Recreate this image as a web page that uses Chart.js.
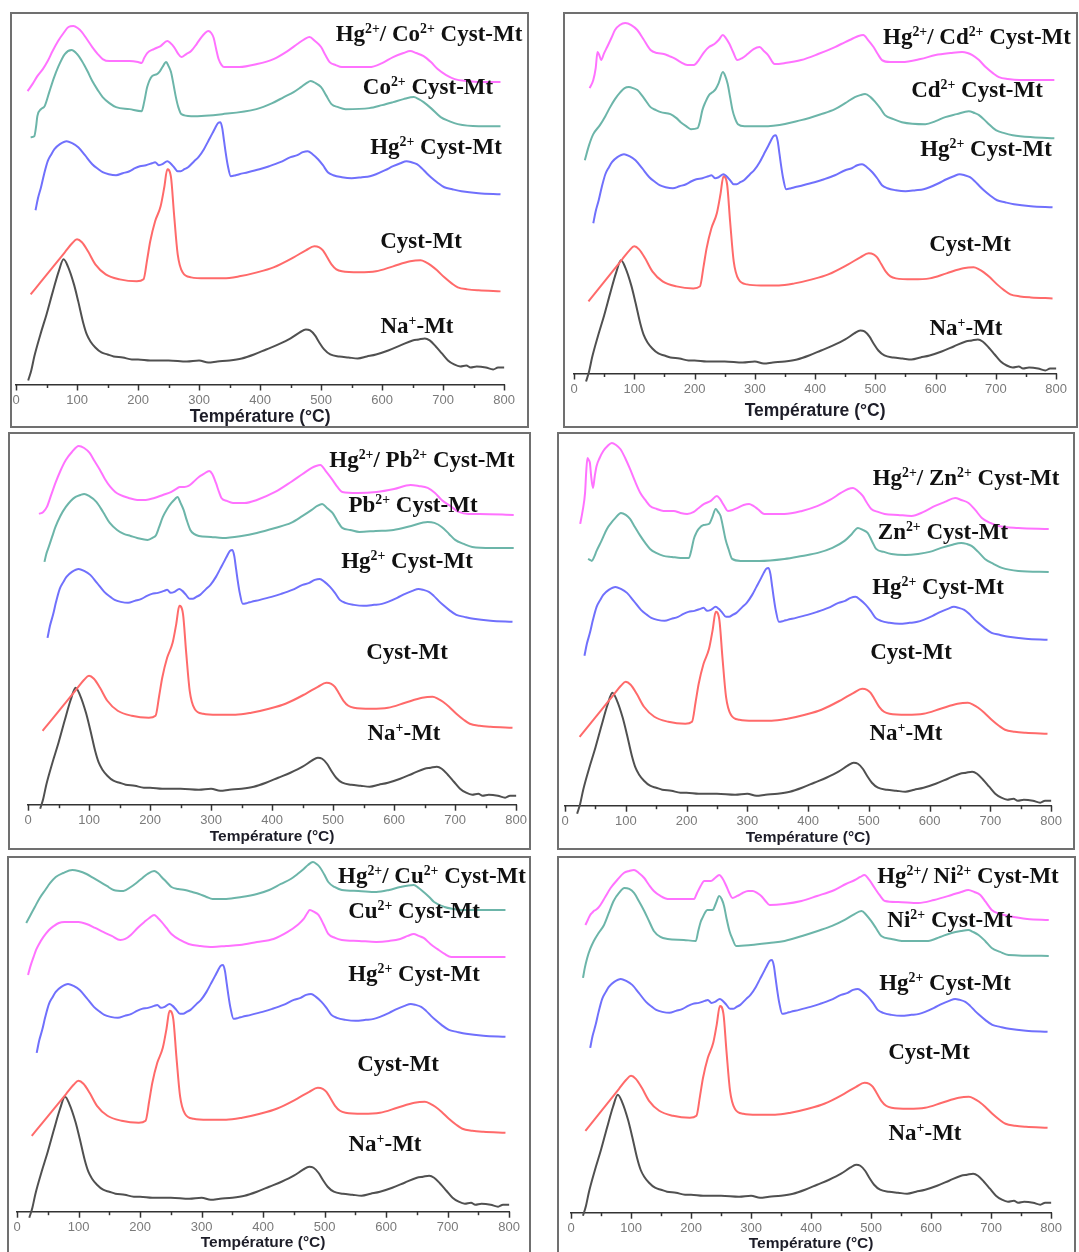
<!DOCTYPE html>
<html>
<head>
<meta charset="utf-8">
<script src="https://cdn.jsdelivr.net/npm/chart.js@4.4.1/dist/chart.umd.min.js"></script>
<style>
  body { margin: 0; background: #fff; }
  #page { position: relative; width: 1079px; height: 1252px; overflow: hidden; background: #fff; }
  .box { position: absolute; border: 2px solid #707070; box-sizing: border-box; }
  canvas { position: absolute; }
  .lbl { position: absolute; transform: translate(-50%, -50%); white-space: nowrap; line-height: 1;
         font-family: "Liberation Serif", "Times New Roman", serif; font-weight: bold; font-size: 23px; color: #111; }
  .lbl sup { font-size: 0.6em; vertical-align: baseline; position: relative; top: -0.6em; line-height: 0; }
</style>
</head>
<body>
<div id="page"></div>
<script>
// DTG curves, [temperature °C, signal] (signal in arbitrary stacked units)
const naMt = [[20,4],[25,14],[30,28],[40,50],[50,70],[60,92],[70,113],[78,125],[85,118],[95,100],[102,83],[110,62],[116,50],[122,43],[130,37],[140,32],[150,30],[160,28],[175,27],[190,25],[200,25],[220,24],[250,24],[280,23],[300,24],[315,22],[330,23],[350,24],[370,26],[390,30],[410,35],[430,40],[450,46],[465,52],[475,55],[482,54],[490,49],[497,42],[505,35],[515,30],[530,28],[545,27],[560,26],[575,28],[590,30],[610,34],[630,39],[650,44],[660,45],[670,46],[678,44],[688,38],[698,31],[708,24],[718,20],[728,18],[738,19],[745,17],[755,18],[770,17],[782,15],[790,17],[800,17]];
const cystMt = [[24,90],[40,102],[60,117],[80,132],[92,141],[100,145],[108,142],[118,133],[130,120],[147,110],[170,105],[198,103],[209,105],[215,125],[220,143],[228,163],[237,178],[243,197],[248,215],[254,207],[259,170],[265,130],[273,112],[287,107],[310,106],[340,106],[366,108],[395,112],[422,117],[455,127],[475,134],[489,138],[497,137],[503,134],[510,127],[517,120],[525,115],[534,113],[562,112],[590,113],[618,118],[646,123],[663,124],[672,122],[680,119],[690,114],[702,107],[714,101],[724,97],[740,95],[758,94],[794,93]];
const hgCystMt = [[32,174],[36,186],[41,197],[46,210],[52,223],[58,230],[63,235],[72,240],[83,243],[92,241],[102,237],[113,229],[125,220],[135,215],[142,212],[152,210],[164,209],[175,211],[186,213],[195,216],[203,218],[213,219],[223,221],[228,222],[234,219],[240,220],[248,223],[253,221],[259,217],[265,213],[270,213],[276,215],[282,217],[292,223],[299,227],[308,235],[315,243],[322,251],[327,257],[331,261],[335,262],[338,256],[341,243],[344,230],[347,219],[352,208],[360,209],[366,210],[380,212],[399,215],[415,218],[433,222],[450,227],[461,229],[470,232],[478,233],[486,230],[495,225],[503,219],[511,212],[520,209],[534,207],[550,206],[567,207],[580,208],[590,210],[605,214],[618,218],[630,221],[640,223],[648,222],[657,220],[665,216],[673,211],[680,207],[690,202],[702,197],[715,195],[730,193],[758,191],[794,190]];

const coCystMt = [[24,247],[30,248],[33,258],[35,268],[41,275],[47,278],[55,293],[62,306],[69,317],[80,330],[91,334],[100,330],[108,323],[117,313],[125,303],[134,294],[142,287],[153,281],[164,277],[186,275],[206,273],[210,282],[215,297],[223,308],[231,310],[236,313],[240,317],[246,322],[250,318],[254,312],[258,300],[262,287],[266,277],[271,270],[287,268],[338,270],[394,275],[420,281],[439,287],[455,292],[467,297],[476,301],[483,303],[491,301],[500,297],[508,289],[517,280],[528,277],[540,275],[579,276],[600,279],[618,282],[635,285],[652,287],[660,285],[668,282],[680,276],[696,267],[710,263],[724,260],[758,258],[794,258]];
const hgCoCystMt = [[19,293],[27,300],[35,308],[44,315],[52,323],[60,333],[69,343],[78,351],[86,357],[94,358],[101,356],[108,352],[116,345],[125,337],[134,330],[142,325],[153,323],[186,323],[200,322],[206,321],[210,326],[215,331],[226,335],[237,338],[248,343],[253,341],[259,337],[265,331],[271,327],[279,330],[287,333],[296,340],[304,347],[310,351],[315,353],[320,351],[324,346],[328,335],[332,325],[337,319],[341,317],[366,317],[395,320],[422,325],[445,333],[461,340],[473,345],[481,347],[490,343],[500,337],[507,329],[514,322],[524,319],[534,317],[579,317],[600,321],[618,327],[635,331],[646,333],[656,331],[668,328],[680,322],[691,315],[705,309],[719,305],[740,303],[758,302],[794,302]];
const cdCystMt = [[18,213],[25,228],[32,239],[43,248],[52,257],[60,266],[68,274],[77,281],[84,285],[91,286],[98,285],[105,283],[116,275],[127,266],[136,263],[144,261],[160,259],[170,255],[177,251],[186,247],[194,244],[205,245],[209,252],[213,263],[218,271],[224,278],[230,281],[235,284],[240,290],[247,301],[251,297],[255,289],[259,276],[263,263],[267,255],[272,249],[283,247],[322,247],[377,253],[410,259],[433,264],[450,270],[466,276],[475,278],[483,279],[492,276],[500,271],[508,265],[516,258],[530,254],[544,251],[583,249],[600,252],[616,256],[635,259],[655,262],[665,260],[672,258],[685,251],[700,243],[714,240],[728,238],[761,236],[797,235]];
const hgCdCystMt = [[26,285],[32,293],[36,305],[39,321],[42,318],[45,313],[50,320],[55,326],[62,335],[68,343],[76,348],[85,350],[95,348],[105,343],[115,334],[127,323],[138,320],[149,319],[158,317],[166,315],[177,311],[188,308],[199,308],[207,313],[216,321],[224,326],[233,329],[240,333],[247,338],[252,335],[258,329],[264,321],[271,313],[279,315],[288,319],[298,324],[308,326],[315,322],[322,318],[333,309],[350,310],[377,313],[405,319],[433,326],[450,331],[461,334],[472,337],[480,338],[488,333],[497,326],[504,319],[511,313],[525,311],[544,311],[575,314],[600,318],[625,320],[644,321],[653,320],[661,318],[672,313],[683,306],[695,300],[705,296],[720,294],[739,293],[797,293]];
const pbCystMt = [[27,243],[30,251],[34,258],[40,269],[45,278],[53,289],[62,298],[70,304],[78,308],[86,310],[92,311],[100,309],[112,303],[123,293],[134,282],[146,275],[157,271],[168,269],[179,267],[196,265],[204,267],[210,270],[215,278],[221,288],[228,296],[235,302],[241,306],[245,308],[250,302],[255,295],[260,285],[266,275],[272,271],[280,269],[300,268],[319,267],[350,269],[375,272],[405,277],[431,282],[450,289],[465,295],[474,299],[482,301],[490,297],[499,292],[507,284],[515,277],[528,275],[543,273],[570,274],[599,275],[628,279],[655,283],[666,282],[678,278],[690,271],[700,265],[714,261],[728,258],[760,257],[796,257]];
const hgPbCystMt = [[18,291],[25,293],[31,298],[38,310],[45,322],[53,334],[62,345],[72,353],[83,359],[92,357],[101,352],[109,344],[118,335],[126,326],[135,318],[143,313],[151,310],[165,307],[179,305],[193,305],[207,307],[221,310],[235,313],[243,316],[249,318],[256,318],[263,319],[271,323],[280,328],[288,331],[297,334],[302,331],[308,322],[313,313],[317,307],[326,304],[336,302],[355,302],[375,305],[405,313],[431,323],[450,331],[465,337],[472,339],[479,340],[489,333],[499,325],[507,318],[515,313],[540,312],[571,313],[600,316],[627,320],[640,319],[655,317],[667,312],[678,305],[692,299],[706,293],[722,291],[740,291],[796,290]];
const znCystMt = [[38,247],[41,246],[44,245],[48,249],[52,255],[60,265],[69,277],[76,283],[83,288],[92,293],[100,291],[107,287],[115,279],[124,270],[132,263],[140,257],[150,253],[162,250],[176,249],[190,248],[204,248],[208,256],[212,267],[216,273],[220,277],[228,281],[237,282],[242,288],[248,297],[252,294],[256,290],[260,279],[264,267],[269,257],[275,247],[289,245],[320,245],[361,247],[390,250],[416,253],[440,258],[460,265],[472,272],[482,278],[490,276],[498,273],[505,265],[512,257],[525,254],[537,252],[560,251],[581,252],[600,254],[619,258],[636,261],[652,263],[661,262],[669,260],[680,254],[691,247],[705,242],[719,238],[746,235],[796,234]];
const hgZnCystMt = [[25,282],[29,295],[33,313],[35,335],[37,348],[39,346],[41,343],[43,330],[46,318],[49,330],[52,340],[57,348],[63,355],[70,360],[77,363],[84,361],[91,357],[99,348],[107,337],[115,325],[124,313],[132,306],[140,300],[151,297],[162,295],[179,295],[190,293],[201,292],[212,294],[220,298],[229,302],[240,305],[250,310],[255,307],[259,303],[263,299],[268,295],[276,296],[284,298],[294,301],[303,302],[310,300],[317,297],[328,292],[345,292],[361,292],[390,295],[416,300],[436,306],[454,313],[466,317],[474,318],[482,315],[490,310],[497,303],[504,297],[515,294],[526,292],[548,291],[570,290],[590,294],[609,300],[625,304],[642,308],[652,306],[664,303],[675,296],[686,288],[700,283],[713,280],[746,278],[796,277]];
const cuCystMt = [[18,237],[22,246],[27,255],[31,262],[35,267],[43,275],[52,282],[60,286],[68,289],[77,290],[85,290],[100,290],[113,288],[127,284],[140,280],[154,276],[168,272],[176,273],[185,277],[196,284],[207,290],[215,294],[223,297],[229,294],[235,290],[243,284],[251,278],[265,272],[279,268],[298,266],[318,265],[340,266],[362,267],[390,270],[417,273],[440,280],[456,287],[466,293],[472,299],[476,302],[483,300],[490,297],[498,288],[506,278],[517,274],[528,272],[556,271],[584,270],[605,271],[623,273],[635,276],[645,278],[653,276],[661,274],[672,268],[683,263],[695,258],[706,255],[750,255],[794,255]];
const hgCuCystMt = [[15,289],[22,297],[29,305],[37,314],[46,322],[54,329],[63,335],[75,339],[90,342],[100,341],[113,338],[124,334],[135,330],[146,326],[157,322],[173,321],[185,325],[196,330],[204,334],[212,338],[223,341],[229,339],[235,335],[243,330],[251,325],[262,323],[273,322],[285,320],[296,318],[308,315],[318,313],[340,313],[365,315],[390,318],[410,322],[429,328],[445,333],[456,338],[466,343],[473,347],[481,350],[487,348],[492,345],[499,338],[506,330],[516,325],[528,322],[555,321],[584,320],[605,322],[623,325],[645,327],[653,324],[661,320],[670,315],[678,310],[695,305],[710,303],[722,302],[794,302]];
const niCystMt = [[20,235],[23,245],[27,255],[32,264],[38,272],[46,280],[55,288],[63,300],[71,312],[80,320],[89,325],[97,324],[105,320],[113,312],[122,302],[130,292],[138,282],[149,276],[161,274],[188,273],[208,272],[212,282],[216,291],[219,295],[223,300],[227,303],[236,303],[241,309],[247,317],[251,314],[255,307],[259,295],[264,282],[269,274],[275,267],[300,268],[330,270],[356,272],[385,277],[411,282],[435,287],[456,293],[470,298],[484,302],[492,298],[500,292],[508,285],[517,277],[534,274],[551,272],[595,272],[615,276],[634,280],[650,282],[662,283],[670,281],[679,278],[690,272],[701,265],[715,261],[729,258],[796,257]];
const hgNiCystMt = [[24,288],[28,293],[32,298],[35,300],[38,302],[41,303],[45,305],[49,308],[57,316],[66,325],[77,333],[88,340],[97,342],[105,343],[113,340],[122,335],[130,328],[138,322],[149,317],[161,314],[185,314],[205,314],[210,320],[216,327],[222,332],[233,332],[240,335],[247,338],[252,335],[258,328],[263,321],[269,315],[277,317],[286,320],[295,322],[303,322],[310,320],[317,317],[324,312],[331,308],[355,309],[384,312],[410,317],[439,323],[458,329],[473,333],[482,336],[489,338],[497,333],[506,325],[514,318],[523,312],[545,311],[579,310],[605,313],[634,318],[650,321],[662,323],[672,321],[682,318],[691,311],[701,303],[715,299],[729,297],[760,294],[796,293]];

const majorTicks = [0, 100, 200, 300, 400, 500, 600, 700, 800];
const minorTicks = [50, 150, 250, 350, 450, 550, 650, 750];
const axisTitle = "Température (°C)";

const labelsCo = ["Hg<sup>2+</sup>/ Co<sup>2+</sup> Cyst-Mt", "Co<sup>2+</sup> Cyst-Mt", "Hg<sup>2+</sup> Cyst-Mt", "Cyst-Mt", "Na<sup>+</sup>-Mt"];
const labelsCd = ["Hg<sup>2+</sup>/ Cd<sup>2+</sup> Cyst-Mt", "Cd<sup>2+</sup> Cyst-Mt", "Hg<sup>2+</sup> Cyst-Mt", "Cyst-Mt", "Na<sup>+</sup>-Mt"];
const labelsPb = ["Hg<sup>2+</sup>/ Pb<sup>2+</sup> Cyst-Mt", "Pb<sup>2+</sup> Cyst-Mt", "Hg<sup>2+</sup> Cyst-Mt", "Cyst-Mt", "Na<sup>+</sup>-Mt"];
const labelsZn = ["Hg<sup>2+</sup>/ Zn<sup>2+</sup> Cyst-Mt", "Zn<sup>2+</sup> Cyst-Mt", "Hg<sup>2+</sup> Cyst-Mt", "Cyst-Mt", "Na<sup>+</sup>-Mt"];
const labelsCu = ["Hg<sup>2+</sup>/ Cu<sup>2+</sup> Cyst-Mt", "Cu<sup>2+</sup> Cyst-Mt", "Hg<sup>2+</sup> Cyst-Mt", "Cyst-Mt", "Na<sup>+</sup>-Mt"];
const labelsNi = ["Hg<sup>2+</sup>/ Ni<sup>2+</sup> Cyst-Mt", "Ni<sup>2+</sup> Cyst-Mt", "Hg<sup>2+</sup> Cyst-Mt", "Cyst-Mt", "Na<sup>+</sup>-Mt"];

const MAG = "#ff72ff", TEAL = "#6cb5a9", BLUE = "#7070fc", RED = "#ff6a6a", GREY = "#505050";

// layout of the six panels (page pixels)
const panels = [
  { box: [10, 12, 519, 416], x0: 16, x800: 509, axisY: 384, titleOff: 33, titleSize: 17.5, shift: [0, 0, 0],
    top: [[hgCoCystMt, MAG], [coCystMt, TEAL]], labels: labelsCo,
    labelPos: [[429, 33], [428, 86], [436, 146], [421, 240], [417, 325]] },
  { box: [563, 12, 515, 416], x0: 574, x800: 1061, axisY: 373, titleOff: 38, titleSize: 17.5, shift: [-12, -18, -24],
    top: [[hgCdCystMt, MAG], [cdCystMt, TEAL]], labels: labelsCd,
    labelPos: [[977, 36], [977, 89], [986, 148], [970, 243], [966, 327]] },
  { box: [8, 432, 523, 418], x0: 28, x800: 521, axisY: 805, titleOff: 32, titleSize: 15.5, shift: [-8, -16, -7],
    top: [[hgPbCystMt, MAG], [pbCystMt, TEAL]], labels: labelsPb,
    labelPos: [[422, 459], [413, 504], [407, 560], [407, 651], [404, 732]] },
  { box: [557, 432, 518, 418], x0: 565, x800: 1056, axisY: 806, titleOff: 32, titleSize: 15.5, shift: [-12, -21, -24],
    top: [[hgZnCystMt, MAG], [znCystMt, TEAL]], labels: labelsZn,
    labelPos: [[966, 477], [943, 531], [938, 586], [911, 651], [906, 732]] },
  { box: [7, 856, 524, 410], x0: 17, x800: 514, axisY: 1212, titleOff: 31, titleSize: 15.5, shift: [-10, -14, -15],
    top: [[hgCuCystMt, TEAL], [cuCystMt, MAG]], labels: labelsCu,
    labelPos: [[432, 875], [414, 910], [414, 973], [398, 1063], [385, 1143]] },
  { box: [557, 856, 519, 410], x0: 571, x800: 1056, axisY: 1213, titleOff: 31, titleSize: 15.5, shift: [-7, -8, -9],
    top: [[hgNiCystMt, MAG], [niCystMt, TEAL]], labels: labelsNi,
    labelPos: [[968, 875], [950, 919], [945, 982], [929, 1051], [925, 1132]] },
];

const tickMarks = {
  id: "tickMarks",
  afterDraw(chart) {
    const s = chart.scales.x;
    const ctx = chart.ctx;
    ctx.save();
    ctx.strokeStyle = "#333";
    ctx.lineWidth = 1.5;
    majorTicks.concat(minorTicks).forEach(v => {
      const px = Math.round(s.getPixelForValue(v)) + 0.5;
      const len = majorTicks.includes(v) ? 6 : 3.5;
      ctx.beginPath();
      ctx.moveTo(px, s.top);
      ctx.lineTo(px, s.top + len);
      ctx.stroke();
    });
    ctx.restore();
  }
};

function toPoints(curve, shift) {
  return curve.map(([t, v]) => ({ x: t, y: v + shift }));
}

function lineSet(points, color) {
  return {
    data: points,
    borderColor: color,
    borderWidth: 2,
    pointRadius: 0,
    fill: false,
    cubicInterpolationMode: "monotone",
    clip: false,
  };
}

function buildPanel(page, p) {
  const box = document.createElement("div");
  box.className = "box";
  box.style.left = p.box[0] + "px";
  box.style.top = p.box[1] + "px";
  box.style.width = p.box[2] + "px";
  box.style.height = p.box[3] + "px";
  page.appendChild(box);

  const pad = 14;
  const top = p.box[1] + 3;
  const lineH = p.titleSize * 1.2;
  const axisH = p.titleOff + lineH / 2;
  const plotH = p.axisY - top;

  const canvas = document.createElement("canvas");
  canvas.width = p.x800 - p.x0 + 2 * pad;
  canvas.height = Math.round(plotH + axisH);
  canvas.style.left = (p.x0 - pad) + "px";
  canvas.style.top = top + "px";
  page.appendChild(canvas);

  const datasets = [
    lineSet(toPoints(p.top[0][0], 0), p.top[0][1]),
    lineSet(toPoints(p.top[1][0], 0), p.top[1][1]),
    lineSet(toPoints(hgCystMt, p.shift[2]), BLUE),
    lineSet(toPoints(cystMt, p.shift[1]), RED),
    lineSet(toPoints(naMt, p.shift[0]), GREY),
  ];

  new Chart(canvas, {
    type: "line",
    data: { datasets },
    options: {
      responsive: false,
      animation: false,
      layout: { padding: { left: pad, right: pad, top: 0, bottom: 0 } },
      plugins: { legend: { display: false }, tooltip: { enabled: false } },
      scales: {
        x: {
          type: "linear",
          min: 0,
          max: 800,
          afterBuildTicks: s => { s.ticks = majorTicks.map(v => ({ value: v })); },
          afterFit: s => { s.height = axisH; },
          ticks: { autoSkip: false, maxRotation: 0, padding: 8, color: "#7a7a7a",
                   font: { family: "Liberation Sans", size: 13 } },
          grid: { display: true, drawOnChartArea: false, drawTicks: false },
          border: { display: true, color: "#333", width: 1.5 },
          title: { display: true, text: axisTitle, color: "#1d1d28", padding: 0,
                   font: { family: "Liberation Sans", size: p.titleSize, weight: "bold" } },
        },
        y: { display: false, min: 0, max: plotH },
      },
    },
    plugins: [tickMarks],
  });

  p.labels.forEach((txt, i) => {
    const d = document.createElement("div");
    d.className = "lbl";
    d.innerHTML = txt;
    d.style.left = p.labelPos[i][0] + "px";
    d.style.top = p.labelPos[i][1] + "px";
    page.appendChild(d);
  });
}

function handleOnLoad() {
  const page = document.getElementById("page");
  panels.forEach(p => buildPanel(page, p));
}

window.onload = handleOnLoad;
</script>
</body>
</html>
